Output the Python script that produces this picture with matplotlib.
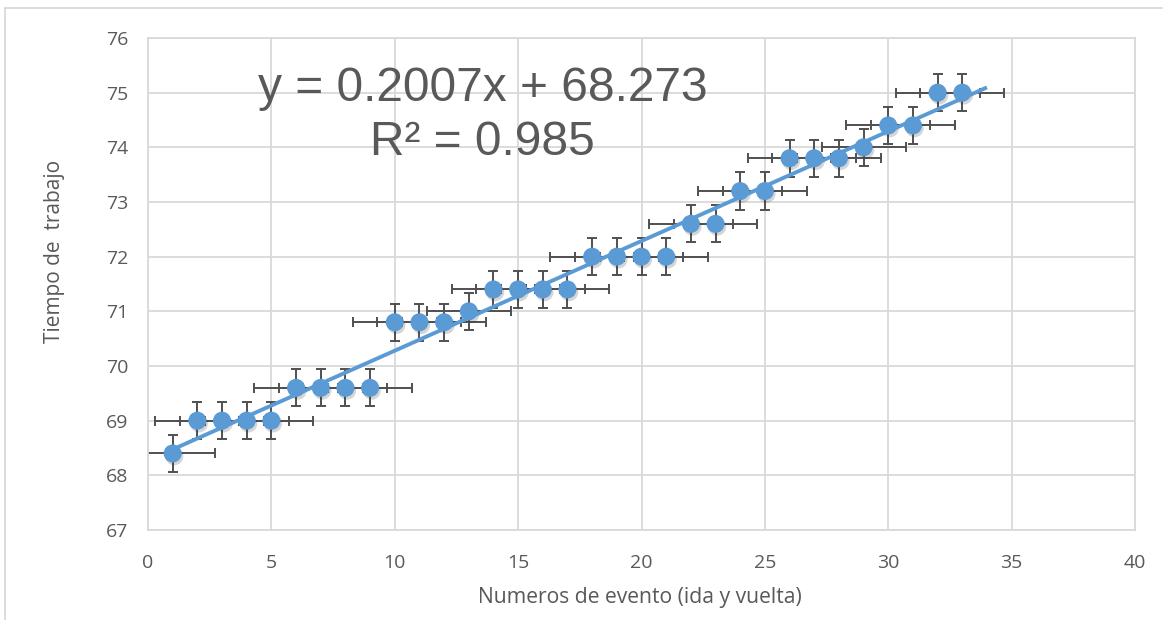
import numpy as np
import matplotlib
matplotlib.use("Agg")
import matplotlib.pyplot as plt
import matplotlib.patheffects as pe
from matplotlib.lines import Line2D

# datos
evento = np.arange(1, 34)
tiempo = np.array([68.4, 69.0, 69.0, 69.0, 69.0,
                   69.6, 69.6, 69.6, 69.6,
                   70.8, 70.8, 70.8, 71.0,
                   71.4, 71.4, 71.4, 71.4,
                   72.0, 72.0, 72.0, 72.0,
                   72.6, 72.6, 73.2, 73.2,
                   73.8, 73.8, 73.8, 74.0,
                   74.4, 74.4, 75.0, 75.0])
err_x = 1.7
err_y = 0.34
ec_text = ["y = 0.2007x + 68.273", "R² = 0.985"]

azul = "#5B9BD5"
gris = "#595959"
rejilla = "#D9D9D9"

plt.rcParams['font.family'] = ['Open Sans', 'DejaVu Sans']

fig = plt.figure(figsize=(11.63, 6.20), dpi=100)
ax = fig.add_axes([148/1163, 1 - 530/620, (1135 - 148)/1163, (530 - 38)/620])

ax.errorbar(evento, tiempo, xerr=err_x, yerr=err_y, fmt='none',
            ecolor="#505050", elinewidth=1.4, capsize=3.6, capthick=1.4,
            zorder=2)

ax.plot(evento, tiempo, 'o', color=azul, markersize=13, markeredgewidth=0,
        zorder=3,
        path_effects=[pe.SimplePatchShadow(offset=(1.2, -2), alpha=0.2,
                                           shadow_rgbFace='#303030'),
                      pe.Normal()])

# linea de tendencia
m, b = np.polyfit(evento, tiempo, 1)
xt = np.array([evento[0], evento[-1] + 1])
ax.plot(xt, m * xt + b, color=azul, linewidth=2.8, zorder=4,
        solid_capstyle='butt')

ax.text(0.339, 0.898, ec_text[0], transform=ax.transAxes, ha='center',
        va='center', fontsize=34.5, color=gris, family=['Liberation Sans'])
ax.text(0.339, 0.787, ec_text[1], transform=ax.transAxes, ha='center',
        va='center', fontsize=34.5, color=gris, family=['Liberation Sans'])

ax.set_xlim(0, 40)
ax.set_ylim(67, 76)
ax.set_xticks(np.arange(0, 41, 5))
ax.set_yticks(np.arange(67, 77, 1))
ax.grid(True, color=rejilla, linewidth=1.3)
ax.set_axisbelow(True)
for s in ax.spines.values():
    s.set_color(rejilla)
    s.set_linewidth(1.3)
ax.tick_params(length=0, labelsize=14, colors=gris, pad=14)
ax.tick_params(axis='x', pad=17)

ax.set_xlabel("Numeros de evento (ida y vuelta)", fontsize=15.2, color=gris)
ax.set_ylabel("Tiempo de  trabajo", fontsize=15, color=gris)
ax.xaxis.set_label_coords(0.4985, -0.116)
ax.yaxis.set_label_coords(-0.084, 0.567)

# borde del area del grafico
fig.add_artist(Line2D([5/1163, 5/1163], [0, 1 - 8/620], color=rejilla,
                      linewidth=1.3, transform=fig.transFigure))
fig.add_artist(Line2D([5/1163, 1], [1 - 8/620, 1 - 8/620], color=rejilla,
                      linewidth=1.3, transform=fig.transFigure))

fig.savefig("out.png", dpi=100)
